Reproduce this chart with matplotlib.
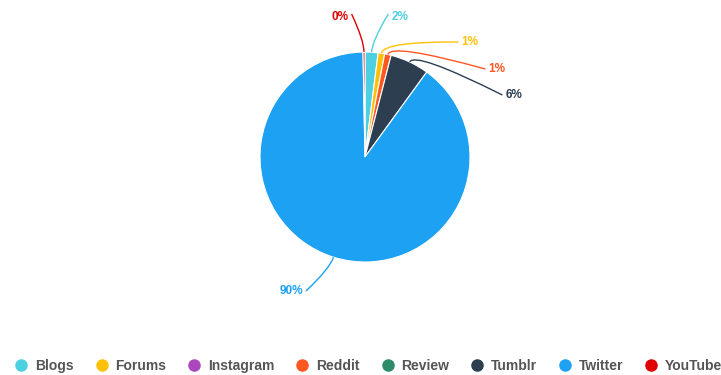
import numpy as np
import matplotlib
matplotlib.use("Agg")
import matplotlib.pyplot as plt
from matplotlib.path import Path
from matplotlib.patches import PathPatch
from matplotlib.lines import Line2D

# Share of mentions by source (%)
sources = ["Blogs", "Forums", "Instagram", "Reddit", "Review", "Tumblr", "Twitter", "YouTube"]
shares = [2, 1, 0, 1, 0, 6, 89.7, 0.3]
colors = ["#4dd0e1", "#ffc107", "#ab47bc", "#ff5722", "#2e8b6a", "#2c3e50", "#1da1f2", "#e00000"]

# label placement (pixel coords of the text centre) for each non-empty slice
label_pos = {
    "Blogs": (400, 17),
    "Forums": (470, 42),
    "Reddit": (497, 69),
    "Tumblr": (514, 95),
    "Twitter": (291, 291),
    "YouTube": (340, 17),
}

W, H = 721, 375
fig = plt.figure(figsize=(W / 100, H / 100), dpi=100)
ax = fig.add_axes([0, 0, 1, 1])

cx, cy, r = 365, H - 157, 105

idx = [i for i, v in enumerate(shares) if v > 0]
vals = [shares[i] for i in idx]
cols = [colors[i] for i in idx]
ax.pie(vals, colors=cols, center=(cx, cy), radius=r, startangle=90,
       counterclock=False, frame=True,
       wedgeprops=dict(edgecolor="white", linewidth=0.8))
ax.set_xlim(0, W)
ax.set_ylim(0, H)
ax.set_aspect("equal")
ax.axis("off")

total = sum(vals)
cum = 0.0
lab_font = dict(family="Liberation Sans", weight="bold", fontsize=8.5)
for i in idx:
    v = shares[i]
    mid = (cum + v / 2) / total
    cum += v
    ang = np.pi / 2 - 2 * np.pi * mid  # clockwise from top
    dx, dy = np.cos(ang), np.sin(ang)
    p0 = (cx + r * dx, cy + r * dy)
    p1 = (cx + (r + 12) * dx, cy + (r + 12) * dy)
    lx, ly = label_pos[sources[i]]
    ly = H - ly
    right = lx > cx
    txt = f"{round(v):.0f}%"
    half = 3.3 * len(txt)
    ex = lx - half - 5 if right else lx + half + 5
    p2 = (ex, ly + (3 if sources[i] in ("Blogs", "YouTube") else 0))
    path = Path([p0, p1, p2], [Path.MOVETO, Path.CURVE3, Path.CURVE3])
    ax.add_patch(PathPatch(path, facecolor="none", edgecolor=colors[i], lw=1.0))
    ax.text(lx, ly, txt, color=colors[i], ha="center", va="center", **lab_font)

handles = [Line2D([], [], marker="o", linestyle="none", markersize=8,
                  markerfacecolor=c, markeredgecolor=c) for c in colors]
leg = fig.legend(handles, sources, loc="center", bbox_to_anchor=(369 / W, 1 - 366 / H),
                 ncol=len(sources), frameon=False, handlelength=0.8, handletextpad=0.6,
                 columnspacing=1.6, borderpad=0, borderaxespad=0,
                 prop=dict(family="Liberation Sans", weight="bold", size=10))
for t in leg.get_texts():
    t.set_color("#555555")

fig.savefig("out.png", dpi=100, facecolor="white")
